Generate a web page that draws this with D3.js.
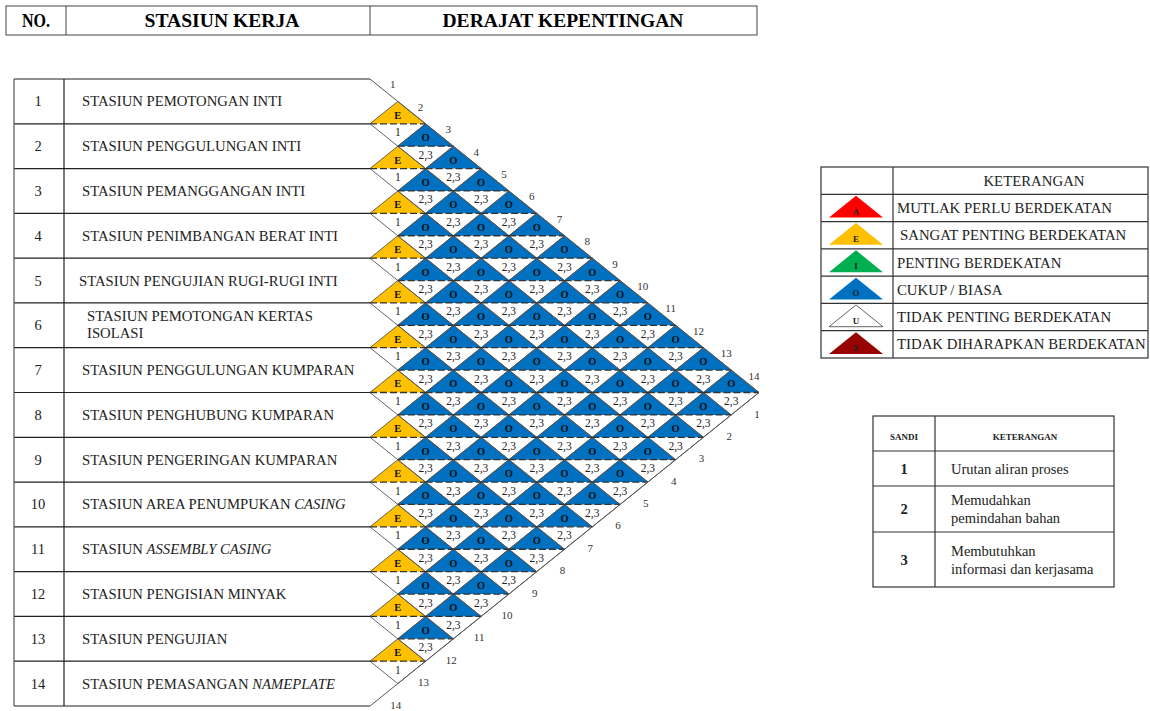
<!DOCTYPE html>
<html>
<head>
<meta charset="utf-8">
<script src="https://cdn.jsdelivr.net/npm/d3@7"></script>
<style>
  body { margin: 0; background: #fff; }
  svg { display: block; font-family: "Liberation Serif", "Times New Roman", serif; }
</style>
</head>
<body>
<div id="chart"></div>
<script>
// station list (left table)
const stationNames = [
  "STASIUN PEMOTONGAN INTI",
  "STASIUN PENGGULUNGAN INTI",
  "STASIUN PEMANGGANGAN INTI",
  "STASIUN PENIMBANGAN BERAT INTI",
  "STASIUN PENGUJIAN RUGI-RUGI INTI",
  "STASIUN PEMOTONGAN KERTAS|ISOLASI",
  "STASIUN PENGGULUNGAN KUMPARAN",
  "STASIUN PENGHUBUNG KUMPARAN",
  "STASIUN PENGERINGAN KUMPARAN",
  "STASIUN AREA PENUMPUKAN ",
  "STASIUN ",
  "STASIUN PENGISIAN MINYAK",
  "STASIUN PENGUJIAN",
  "STASIUN PEMASANGAN "
];
const stationItalic = ["", "", "", "", "", "", "", "", "", "CASING", "ASSEMBLY CASING", "", "", "NAMEPLATE"];

// degree of closeness, row i vs stations i+1 .. 14
const degreeRows = [
  "E O O O O O O O O O O O O",
  "E O O O O O O O O O O O",
  "E O O O O O O O O O O",
  "E O O O O O O O O O",
  "E O O O O O O O O",
  "E O O O O O O O",
  "E O O O O O O",
  "E O O O O O",
  "E O O O O",
  "E O O O",
  "E O O",
  "E O",
  "E"
].map(s => s.split(" "));

// reason codes, same layout
const reasonRows = [
  "1|2,3|2,3|2,3|2,3|2,3|2,3|2,3|2,3|2,3|2,3|2,3|2,3",
  "1|2,3|2,3|2,3|2,3|2,3|2,3|2,3|2,3|2,3|2,3|2,3",
  "1|2,3|2,3|2,3|2,3|2,3|2,3|2,3|2,3|2,3|2,3",
  "1|2,3|2,3|2,3|2,3|2,3|2,3|2,3|2,3|2,3",
  "1|2,3|2,3|2,3|2,3|2,3|2,3|2,3|2,3",
  "1|2,3|2,3|2,3|2,3|2,3|2,3|2,3",
  "1|2,3|2,3|2,3|2,3|2,3|2,3",
  "1|2,3|2,3|2,3|2,3|2,3",
  "1|2,3|2,3|2,3|2,3",
  "1|2,3|2,3|2,3",
  "1|2,3|2,3",
  "1|2,3",
  "1"
].map(s => s.split("|"));

const headerLabels = ["NO.", "STASIUN KERJA", "DERAJAT KEPENTINGAN"];

const legendCodes = ["A", "E", "I", "O", "U", "X"];
const legendLabels = [
  "MUTLAK PERLU BERDEKATAN",
  "SANGAT PENTING BERDEKATAN",
  "PENTING BERDEKATAN",
  "CUKUP / BIASA",
  "TIDAK PENTING BERDEKATAN",
  "TIDAK DIHARAPKAN BERDEKATAN"
];

const sandiCodes = ["1", "2", "3"];
const sandiLabels = [
  ["Urutan aliran proses"],
  ["Memudahkan", "pemindahan bahan"],
  ["Membutuhkan", "informasi dan kerjasama"]
];

const codeColor = { A: "#ff0000", E: "#ffc000", I: "#00b050", O: "#0070c0", U: "#ffffff", X: "#990000" };

const W = 1150, H = 711;
const svg = d3.select("#chart").append("svg")
  .attr("width", W)
  .attr("height", H);
svg.append("rect").attr("width", W).attr("height", H).attr("fill", "#fff");

const n = stationNames.length;
const yRow = d3.scaleLinear().domain([0, n]).range([79, 706]);
const xStep = d3.scaleLinear().domain([0, n]).range([370, 759]);
const hb = (yRow(1) - yRow(0)) / 2;
const ha = xStep(1) - xStep(0);
const lineCol = "#222";

// ---- header ----
const head = svg.append("g");
head.append("rect").attr("x", 6).attr("y", 6).attr("width", 751).attr("height", 29)
  .attr("fill", "none").attr("stroke", "#444").attr("stroke-width", 1);
[66, 370].forEach(x => head.append("line").attr("x1", x).attr("x2", x).attr("y1", 6).attr("y2", 35)
  .attr("stroke", "#444"));
const headX = [36, 222, 563], headW = [28, 155, 241];
head.selectAll("text.h").data(headerLabels).enter().append("text")
  .attr("x", (d, i) => headX[i]).attr("y", 27)
  .attr("text-anchor", "middle").attr("font-weight", "bold").attr("font-size", 18)
  .attr("textLength", (d, i) => headW[i]).attr("lengthAdjust", "spacingAndGlyphs")
  .text(d => d);

// ---- station table ----
const tbl = svg.append("g");
d3.range(n + 1).forEach(k => {
  tbl.append("line").attr("x1", 14).attr("x2", 370).attr("y1", yRow(k)).attr("y2", yRow(k))
    .attr("stroke", lineCol).attr("stroke-width", 1.2);
});
tbl.append("line").attr("x1", 14).attr("x2", 14).attr("y1", yRow(0)).attr("y2", yRow(n)).attr("stroke", "#555").attr("stroke-width", 1.2);
tbl.append("line").attr("x1", 64).attr("x2", 64).attr("y1", yRow(0)).attr("y2", yRow(n)).attr("stroke", lineCol).attr("stroke-width", 1.2);

tbl.selectAll("text.num").data(stationNames).enter().append("text")
  .attr("x", 38).attr("y", (d, i) => yRow(i + 0.5) + 5)
  .attr("text-anchor", "middle").attr("font-size", 14.5).attr("fill", "#222")
  .text((d, i) => i + 1);

stationNames.forEach((name, i) => {
  const parts = name.split("|");
  const yc = yRow(i + 0.5);
  if (parts.length > 1) {
    parts.forEach((p, k) => {
      tbl.append("text").attr("x", 87).attr("y", yc - 4 + k * 17)
        .attr("font-size", 14.7).attr("fill", "#222").text(p);
    });
  } else {
    const t = tbl.append("text").attr("x", i === 4 ? 79 : 82).attr("y", yc + 5)
      .attr("font-size", 14.7).attr("fill", "#222");
    t.append("tspan").text(name);
    if (stationItalic[i]) t.append("tspan").attr("font-style", "italic").text(stationItalic[i]);
  }
});

// ---- relationship diamonds ----
const cells = [];
degreeRows.forEach((row, r) => {
  row.forEach((deg, k) => {
    const i = r + 1, j = r + 2 + k;
    cells.push({ i, j, deg, reason: reasonRows[r][k], cx: xStep(j - i), cy: yRow((i + j - 1) / 2) });
  });
});

const pts = a => a.map(p => p.join(",")).join(" ");
const g = svg.append("g");
g.selectAll("polygon.up").data(cells).enter().append("polygon")
  .attr("points", d => pts([[d.cx - ha, d.cy], [d.cx, d.cy - hb], [d.cx + ha, d.cy]]))
  .attr("fill", d => codeColor[d.deg]);
g.selectAll("polygon.dia").data(cells).enter().append("polygon")
  .attr("points", d => pts([[d.cx - ha, d.cy], [d.cx, d.cy - hb], [d.cx + ha, d.cy], [d.cx, d.cy + hb]]))
  .attr("fill", "none").attr("stroke", "#555").attr("stroke-width", 0.9);
g.selectAll("line.mid").data(cells).enter().append("line")
  .attr("x1", d => d.cx - ha).attr("x2", d => d.cx + ha)
  .attr("y1", d => d.cy).attr("y2", d => d.cy)
  .attr("stroke", "#333").attr("stroke-width", 1.3).attr("stroke-dasharray", "7,3");
g.append("path")
  .attr("d", `M${xStep(0)},${yRow(0)}L${xStep(n)},${yRow(n / 2)}L${xStep(0)},${yRow(n)}`)
  .attr("fill", "none").attr("stroke", "#555").attr("stroke-width", 1);

g.selectAll("text.deg").data(cells).enter().append("text")
  .attr("x", d => d.cx).attr("y", d => d.cy - hb * 0.38 + 3.5)
  .attr("text-anchor", "middle").attr("font-size", 10.5).attr("font-weight", "bold").attr("fill", "#111")
  .text(d => d.deg);
g.selectAll("text.rsn").data(cells).enter().append("text")
  .attr("x", d => d.cx).attr("y", d => d.cy + hb * 0.38 + 4)
  .attr("text-anchor", "middle").attr("font-size", 11.5).attr("fill", "#222")
  .text(d => d.reason);

// edge numbers
const nums = d3.range(1, n + 1);
g.selectAll("text.top").data(nums).enter().append("text")
  .attr("x", k => xStep(k) - 5).attr("y", k => yRow(k / 2) - 13)
  .attr("text-anchor", "middle").attr("font-size", 11).attr("fill", "#333")
  .text(k => k);
g.selectAll("text.bot").data(nums).enter().append("text")
  .attr("x", k => xStep(n + 1 - k) - 2).attr("y", k => yRow(n - (n + 1 - k) / 2) + 25)
  .attr("text-anchor", "middle").attr("font-size", 11).attr("fill", "#333")
  .text(k => k);

// ---- legend: degree ----
const lg = svg.append("g");
const ly = d3.scaleLinear().domain([0, legendCodes.length + 1]).range([167, 358]);
lg.append("rect").attr("x", 821).attr("y", ly(0)).attr("width", 327).attr("height", ly(7) - ly(0))
  .attr("fill", "none").attr("stroke", "#333").attr("stroke-width", 1.2);
d3.range(1, 7).forEach(k => lg.append("line").attr("x1", 821).attr("x2", 1148)
  .attr("y1", ly(k)).attr("y2", ly(k)).attr("stroke", "#333").attr("stroke-width", 1.2));
lg.append("line").attr("x1", 893).attr("x2", 893).attr("y1", ly(0)).attr("y2", ly(7)).attr("stroke", "#333").attr("stroke-width", 1.2);
lg.append("text").attr("x", 1034).attr("y", ly(0.5) + 5).attr("text-anchor", "middle")
  .attr("font-size", 14.8).attr("fill", "#222").text("KETERANGAN");
lg.selectAll("polygon").data(legendCodes).enter().append("polygon")
  .attr("points", (d, i) => {
    const t = ly(i + 1), b = ly(i + 2);
    return pts([[829, b - 4], [856, t + 1.5], [883, b - 4]]);
  })
  .attr("fill", d => codeColor[d])
  .attr("stroke", d => d === "U" ? "#666" : "none");
lg.selectAll("text.code").data(legendCodes).enter().append("text")
  .attr("x", 856).attr("y", (d, i) => ly(i + 2) - 7)
  .attr("text-anchor", "middle").attr("font-size", 9).attr("font-weight", "bold").attr("fill", "#222")
  .text(d => d);
lg.selectAll("text.lab").data(legendLabels).enter().append("text")
  .attr("x", (d, i) => i === 1 ? 900 : 897).attr("y", (d, i) => ly(i + 1.5) + 5)
  .attr("font-size", 14.8).attr("fill", "#222")
  .text(d => d);

// ---- legend: sandi ----
const sg = svg.append("g");
const sy = [416, 451, 486, 532, 587];
sg.append("rect").attr("x", 873).attr("y", sy[0]).attr("width", 241).attr("height", sy[4] - sy[0])
  .attr("fill", "none").attr("stroke", "#333").attr("stroke-width", 1.2);
sy.slice(1, 4).forEach(y => sg.append("line").attr("x1", 873).attr("x2", 1114).attr("y1", y).attr("y2", y)
  .attr("stroke", "#333").attr("stroke-width", 1.2));
sg.append("line").attr("x1", 935).attr("x2", 935).attr("y1", sy[0]).attr("y2", sy[4]).attr("stroke", "#333").attr("stroke-width", 1.2);
sg.append("text").attr("x", 904).attr("y", 440).attr("text-anchor", "middle")
  .attr("font-size", 9).attr("font-weight", "bold").attr("fill", "#222").text("SANDI");
sg.append("text").attr("x", 1025).attr("y", 440).attr("text-anchor", "middle")
  .attr("font-size", 9).attr("font-weight", "bold").attr("fill", "#222").text("KETERANGAN");
sandiCodes.forEach((c, i) => {
  const yc = (sy[i + 1] + sy[i + 2]) / 2;
  sg.append("text").attr("x", 904).attr("y", yc + 5).attr("text-anchor", "middle")
    .attr("font-size", 14.5).attr("font-weight", "bold").attr("fill", "#222").text(c);
  const lines = sandiLabels[i];
  lines.forEach((l, k) => {
    sg.append("text").attr("x", 951).attr("y", yc + 5 + (k - (lines.length - 1) / 2) * 18)
      .attr("font-size", 14.5).attr("fill", "#222").text(l);
  });
});
</script>
</body>
</html>
